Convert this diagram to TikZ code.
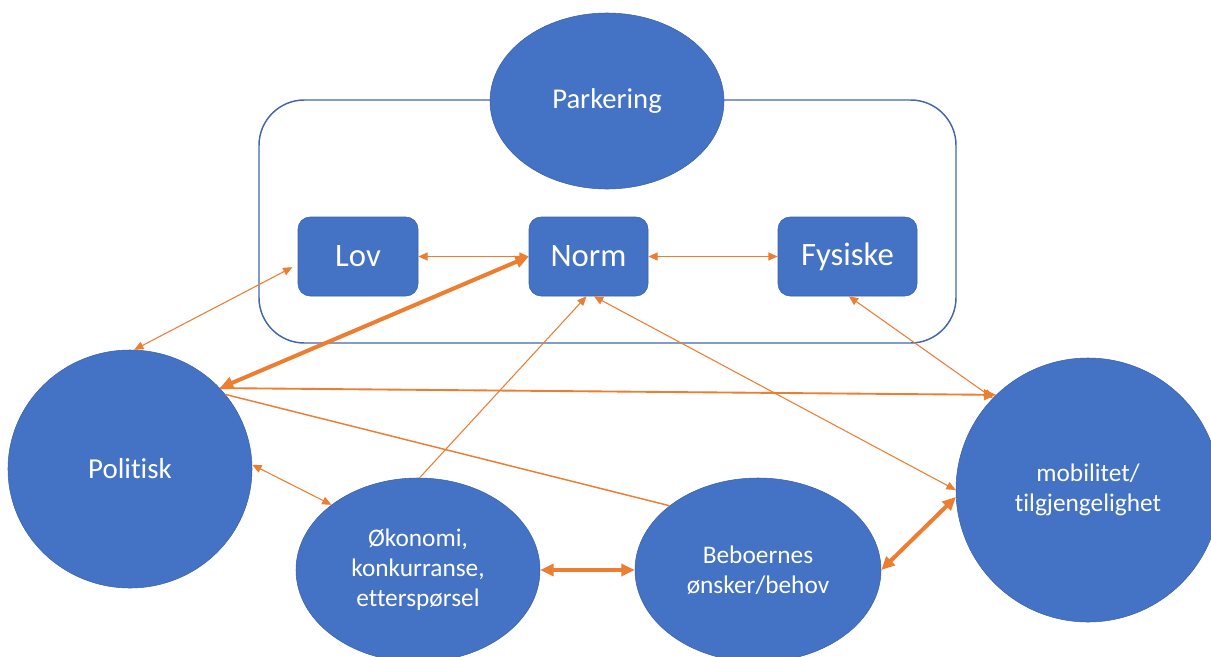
\documentclass[tikz,border=0pt]{standalone}
\usepackage{fontspec}
\setmainfont{Carlito}[Ligatures=NoCommon]
\usetikzlibrary{shapes.geometric,arrows.meta}
\definecolor{nodeblue}{HTML}{4472C4}
\definecolor{edgeblue}{HTML}{3A62AA}
\definecolor{framecol}{HTML}{4267AE}
\definecolor{linkorange}{HTML}{ED7D31}
\begin{document}
\begin{tikzpicture}[x=0.75pt,y=-0.75pt,
  blob/.style={ellipse, fill=nodeblue, draw=edgeblue, line width=0.4pt,
    inner sep=0pt, text=white, align=center,
    font=\fontsize{19}{22.5}\selectfont},
  tile/.style={rectangle, rounded corners=9pt, fill=nodeblue, draw=edgeblue,
    line width=0.4pt, inner sep=0pt, text=white, minimum height=59.25pt,
    font=\fontsize{24.5}{29}\selectfont},
  frame/.style={rectangle, draw=framecol, line width=1.1pt, rounded corners=34pt,
    inner sep=0pt},
  link/.style={draw=linkorange, line width=0.8pt,
    >={Triangle[length=7pt,width=6pt]}, <->},
  linkone/.style={link, ->},
  midlink/.style={draw=linkorange, line width=1.4pt,
    >={Triangle[length=9pt,width=8pt]}, ->},
  plainlink/.style={draw=linkorange, line width=1.1pt},
  boldlink/.style={draw=linkorange, line width=3pt,
    >={Triangle[length=10pt,width=9pt]}, <->}
]
\useasboundingbox (0,0) rectangle (1211,657);

% group frame around the three parking categories
\node[frame, minimum width=522.75pt, minimum height=182.25pt] (group) at (607.5,221.5) {};

% top ellipse and the three category boxes
\node[blob, minimum width=175.5pt, minimum height=132pt,
      font=\fontsize{21.5}{26}\selectfont] (park) at (607,101)
  {\raisebox{-2pt}{Parkering}};
\node[tile, minimum width=90pt]     (lov)  at (358,256.5)   {\raisebox{-1.5pt}{Lov}};
\node[tile, minimum width=89.25pt]  (norm) at (588.5,256.5) {\raisebox{-1.5pt}{Norm}};
\node[tile, minimum width=104.25pt] (fys)  at (847.5,256.5) {\raisebox{-1.5pt}{Fysiske}};

% surrounding factors
\node[blob, minimum width=183pt, minimum height=178.5pt,
      font=\fontsize{21.7}{26}\selectfont] (pol) at (130,469) {Politisk};
\node[blob, minimum width=183pt, minimum height=138pt] (oko) at (418,570)
  {Økonomi,\\konkurranse,\\etterspørsel};
\node[blob, minimum width=184.5pt, minimum height=138pt] (beb) at (758,570)
  {Beboernes\\ønsker/behov};
\node[blob, minimum width=198pt, minimum height=198pt] (mob) at (1088,490)
  {mobilitet/\\tilgjengelighet};

% connectors
\draw[link] (lov.east) -- (norm.west);
\draw[link] (norm.east) -- (fys.west);
\draw[link] ([xshift=-4pt,yshift=-8pt]lov.west) -- (pol.88);
\draw[boldlink] (norm.west) -- (pol.42);
\draw[linkone] (oko.89) -- ([xshift=-1.5pt]norm.south);
\draw[link] ([xshift=4pt]norm.south) -- (mob.180);
\draw[link] ([xshift=1pt]fys.south) -- (mob.136);
\draw[midlink] (pol.42) -- (mob.134);
\draw[plainlink] (pol.38) -- (beb.144);
\draw[link] (pol.2) -- (oko.143);
\draw[boldlink] (oko.east) -- (beb.west);
\draw[boldlink] (beb.east) -- (mob.183);
\end{tikzpicture}
\end{document}
